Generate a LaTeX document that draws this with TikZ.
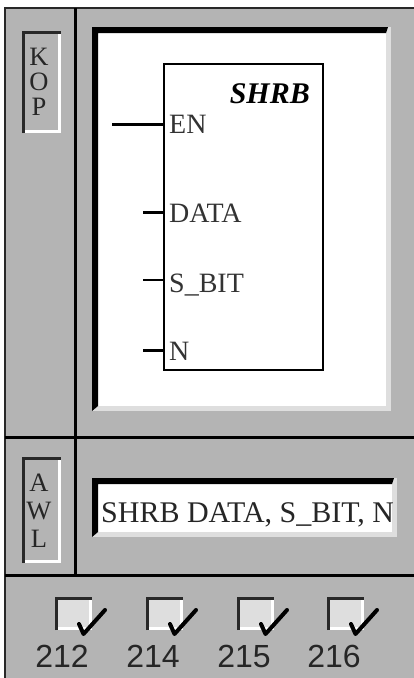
\documentclass[tikz,border=0pt]{standalone}
\usepackage{fontspec}
\setmainfont{Liberation Serif}
\newfontfamily\arialf{Liberation Sans}
\definecolor{panelgray}{RGB}{180,180,180}
\definecolor{bevel}{RGB}{222,222,222}
\definecolor{boxfill}{RGB}{222,222,222}
\definecolor{darkedge}{RGB}{40,40,40}
\tikzset{
  divline/.style={line width=3pt, black},
  tabletter/.style={inner sep=0pt, anchor=base, text height=18pt, text depth=0pt, font=\fontsize{26.5}{26.5}\selectfont, text=black!85},
  pinlabel/.style={inner sep=0pt, anchor=base west, font=\fontsize{28}{28}\selectfont, text=black!80},
  pinwire/.style={line width=3pt},
  thinwire/.style={line width=1.2pt},
  cblabel/.style={inner sep=0pt, anchor=base, font=\arialf\fontsize{32}{32}\selectfont, text=black!85},
  checkmark/.style={line width=4pt, line join=round, line cap=round}
}
\newcommand{\mytab}[3]{% x0 y0 y1
  \fill[panelgray] (#1,#2) rectangle (#1+39,#3);
  \draw[white, line width=3pt] (#1+37,#2+2) -- (#1+37,#3-1.5) -- (#1+1,#3-1.5);
  \draw[darkedge, line width=3pt] (#1+1.5,#3) -- (#1+1.5,#2+1.5) -- (#1+39,#2+1.5);
}
\newcommand{\mywhitebox}[4]{% x0 y0 x1 y1
  \fill[bevel] (#1,#2) rectangle (#3,#4);
  \fill[white] (#1+6,#2+6) rectangle (#3-5,#4-5);
  \fill[black] (#1,#2) -- (#3-3,#2) -- (#3-5,#2+6) -- (#1+6,#2+6) -- (#1+6,#4-5) -- (#1,#4) -- cycle;
}
\newcommand{\mycheck}[2]{% x0 name
  \fill[boxfill] (#1,597) rectangle (#1+37,630);
  \draw[white, line width=3pt] (#1+35.5,598) -- (#1+35.5,628.5) -- (#1+1,628.5);
  \draw[darkedge, line width=3pt] (#1+1.5,630) -- (#1+1.5,598.5) -- (#1+37,598.5);
  \coordinate (#2a) at (#1+24,624);
  \coordinate (#2b) at (#1+28.5,634);
  \coordinate (#2c) at (#1+50,610);
  \draw[checkmark] (#2a) -- (#2b) -- (#2c);
}
\begin{document}
\begin{tikzpicture}[x=1pt,y=-1pt]
\useasboundingbox (0,0) rectangle (414,678);
\fill[white] (0,0) rectangle (414,678);
% gray body
\fill[panelgray] (5,8) rectangle (414,678);
\draw[darkedge, line width=1.2pt] (5,678) -- (5,8) -- (414,8);
% dividers
\coordinate (vtop) at (75,8);
\coordinate (vbot) at (75,575);
\draw[divline] (vtop) -- (vbot);
\coordinate (h1l) at (5,437);
\coordinate (h1r) at (414,437);
\draw[divline] (h1l) -- (h1r);
\coordinate (h2l) at (5,575);
\coordinate (h2r) at (414,575);
\draw[divline] (h2l) -- (h2r);
% KOP tab
\mytab{22}{31}{133}
\node[tabletter] (kK) at (39,65) {K};
\node[tabletter] (kO) at (39,90) {O};
\node[tabletter] (kP) at (39,115) {P};
% AWL tab
\mytab{22}{457}{563}
\node[tabletter] (aA) at (39,491) {A};
\node[tabletter] (aW) at (39,519) {W};
\node[tabletter] (aL) at (39,547) {L};
% KOP panel
\mywhitebox{92}{27}{391}{411}
% block
\node[draw, line width=1.5pt, minimum width=159pt, minimum height=306pt, anchor=north west, inner sep=0pt] (blk) at (163,63) {};
\node[inner sep=0pt, anchor=base east, font=\bfseries\itshape\fontsize{30}{30}\selectfont] (title) at (310,103) {SHRB};
\node[pinlabel] (en) at (169,133) {EN};
\node[pinlabel] (data) at (169,222) {DATA};
\node[pinlabel] (sbit) at (169,292) {S\_BIT};
\node[pinlabel] (n) at (169,360) {N};
\coordinate (enw) at (112,124);
\coordinate (enb) at (163,124);
\coordinate (dataw) at (143,212);
\coordinate (datab) at (163,212);
\coordinate (sbitw) at (143,280);
\coordinate (sbitb) at (163,280);
\coordinate (nw) at (143,350);
\coordinate (nb) at (163,350);
\draw[pinwire] (enw) -- (enb);
\draw[pinwire] (dataw) -- (datab);
\draw[thinwire] (sbitw) -- (sbitb);
\draw[pinwire] (nw) -- (nb);
% AWL box
\mywhitebox{92}{478}{397}{537}
\begin{scope}
\clip (98,484) rectangle (392,532);
\node[inner sep=0pt, anchor=base west, font=\fontsize{30}{30}\selectfont, text=black!85] (awl) at (101,522) {SHRB DATA, S\_BIT, N};
\end{scope}
% checkboxes
\mycheck{55}{c1}
\mycheck{146}{c2}
\mycheck{237}{c3}
\mycheck{327}{c4}
\node[cblabel] (l1) at (62,667) {212};
\node[cblabel] (l2) at (153,667) {214};
\node[cblabel] (l3) at (244,667) {215};
\node[cblabel] (l4) at (334,667) {216};
\end{tikzpicture}
\end{document}
